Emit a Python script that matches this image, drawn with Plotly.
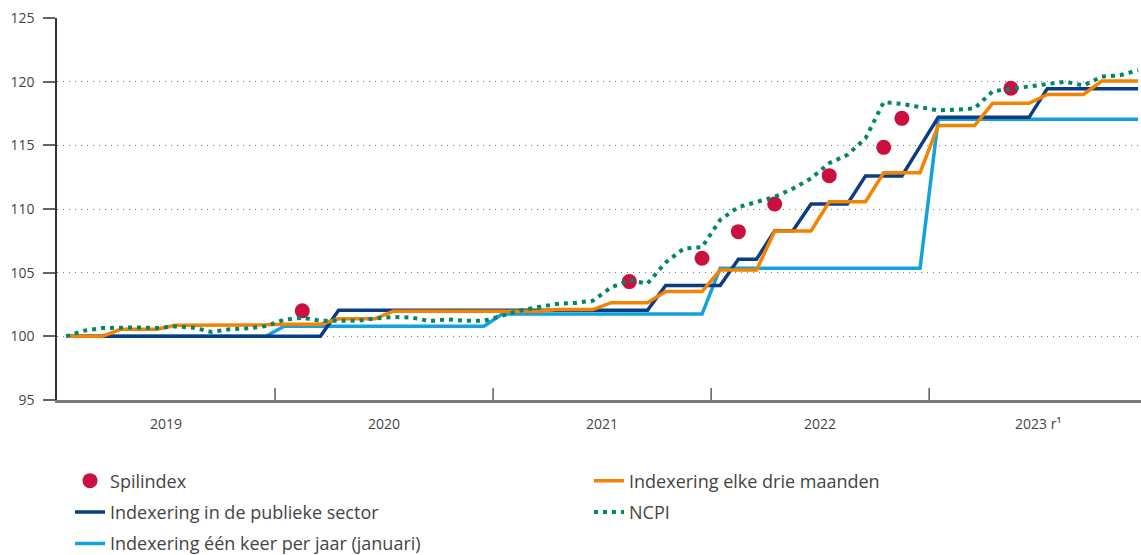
import plotly.graph_objects as go

# ---------------- data ----------------
years = [2019, 2020, 2021, 2022, 2023]
year_labels = ["2019", "2020", "2021", "2022", "2023 r¹"]
months = [f"{y}-{m:02d}" for y in years for m in range(1, 13)]

# Indexering één keer per jaar (januari)
annual = [100.0, 100.0, 100.0, 100.0, 100.0, 100.0, 100.0, 100.0, 100.0, 100.0, 100.0, 100.0,
          100.8, 100.8, 100.8, 100.8, 100.8, 100.8, 100.8, 100.8, 100.8, 100.8, 100.8, 100.8,
          101.75, 101.75, 101.75, 101.75, 101.75, 101.75, 101.75, 101.75, 101.75, 101.75, 101.75, 101.75,
          105.35, 105.35, 105.35, 105.35, 105.35, 105.35, 105.35, 105.35, 105.35, 105.35, 105.35, 105.35,
          117.05, 117.05, 117.05, 117.05, 117.05, 117.05, 117.05, 117.05, 117.05, 117.05, 117.05, 117.05]

# Indexering in de publieke sector
public = [100.0, 100.0, 100.0, 100.0, 100.0, 100.0, 100.0, 100.0, 100.0, 100.0, 100.0, 100.0,
          100.0, 100.0, 100.0, 102.05, 102.05, 102.05, 102.05, 102.05, 102.05, 102.05, 102.05, 102.05,
          102.05, 102.05, 102.05, 102.05, 102.05, 102.05, 102.05, 102.05, 102.05, 104.0, 104.0, 104.0,
          104.0, 106.05, 106.05, 108.3, 108.3, 110.4, 110.4, 110.4, 112.6, 112.6, 112.6, 114.9,
          117.2, 117.2, 117.2, 117.2, 117.2, 117.2, 119.45, 119.45, 119.45, 119.45, 119.45, 119.45]

# Indexering elke drie maanden
quarterly = [100.0, 100.0, 100.0, 100.55, 100.55, 100.55, 100.87, 100.87, 100.87, 100.9, 100.9, 100.9,
             100.95, 100.95, 100.95, 101.38, 101.38, 101.38, 101.97, 101.97, 101.97, 101.97, 101.97, 101.97,
             101.97, 101.97, 101.97, 102.1, 102.1, 102.1, 102.64, 102.64, 102.64, 103.52, 103.52, 103.52,
             105.2, 105.2, 105.2, 108.27, 108.27, 108.27, 110.57, 110.57, 110.57, 112.85, 112.85, 112.85,
             116.55, 116.55, 116.55, 118.3, 118.3, 118.3, 119.0, 119.0, 119.0, 120.05, 120.05, 120.05]

# NCPI
ncpi = [100.0, 100.45, 100.65, 100.7, 100.7, 100.65, 100.78, 100.68, 100.35, 100.55, 100.63, 100.8,
        101.3, 101.46, 101.22, 101.22, 101.22, 101.4, 101.52, 101.48, 101.2, 101.33, 101.22, 101.22,
        101.6, 102.02, 102.3, 102.54, 102.62, 102.8, 103.85, 104.4, 104.15, 105.8, 106.9, 107.0,
        109.15, 110.15, 110.55, 110.95, 111.6, 112.4, 113.6, 114.25, 115.55, 118.4, 118.25, 118.03,
        117.75, 117.8, 117.9, 119.25, 119.45, 119.6, 119.85, 120.0, 119.7, 120.4, 120.5, 120.9]

# Spilindex (months in which the pivot index was exceeded)
spil_months = ["2020-02", "2021-08", "2021-12", "2022-02", "2022-04",
               "2022-07", "2022-10", "2022-11", "2023-05"]
spil_values = [102.0, 104.3, 106.13, 108.22, 110.39, 112.62, 114.84, 117.12, 119.48]

# ---------------- styling ----------------
C_DARK = "#0a3d84"
C_LIGHT = "#12a3dc"
C_ORANGE = "#f58200"
C_GREEN = "#00876a"
C_RED = "#c9103f"
TXT = "#444444"
FONT = "Open Sans"

fig = go.Figure()
fig.add_trace(go.Scatter(x=months, y=annual, mode="lines", name="Indexering één keer per jaar (januari)",
                         line=dict(color=C_LIGHT, width=3.5), legend="legend", legendgroup="g3",
                         legendrank=3))
fig.add_trace(go.Scatter(x=months, y=public, mode="lines", name="Indexering in de publieke sector",
                         line=dict(color=C_DARK, width=3.5), legend="legend", legendgroup="g2",
                         legendrank=2))
fig.add_trace(go.Scatter(x=months, y=quarterly, mode="lines", name="Indexering elke drie maanden",
                         line=dict(color=C_ORANGE, width=3.5), legend="legend2", legendgroup="g4",
                         legendrank=4))
fig.add_trace(go.Scatter(x=spil_months, y=spil_values, mode="markers", name="Spilindex",
                         marker=dict(color=C_RED, size=15), legend="legend", legendgroup="g1",
                         legendrank=1))
fig.add_trace(go.Scatter(x=months, y=ncpi, mode="lines", name="NCPI",
                         line=dict(color=C_GREEN, width=4, dash="4px,5px"), legend="legend2",
                         legendgroup="g5", legendrank=5))

# year boundary ticks and labels
shapes = []
for i in range(1, len(years)):
    xb = i * 12 - 0.5
    shapes.append(dict(type="line", xref="x", yref="y", x0=xb, x1=xb, y0=95, y1=95.95,
                       line=dict(color="#333333", width=1.2)))
annotations = []
for i, lab in enumerate(year_labels):
    annotations.append(dict(x=i * 12 + 5.5, xref="x", y=0, yref="paper", yshift=-23,
                            text=lab, showarrow=False, yanchor="middle", xanchor="center",
                            font=dict(family=FONT, size=14, color=TXT)))

legend_common = dict(orientation="v", yanchor="top", xanchor="left", y=-0.1635,
                     font=dict(family=FONT, size=18, color=TXT),
                     traceorder="grouped", tracegroupgap=5, bgcolor="rgba(0,0,0,0)")

fig.update_layout(
    width=1141, height=555,
    margin=dict(l=57, r=0, t=18, b=155, autoexpand=False),
    paper_bgcolor="white", plot_bgcolor="white",
    font=dict(family=FONT, color=TXT),
    showlegend=True,
    legend=dict(x=0.0120, **legend_common),
    legend2=dict(x=0.4908, **legend_common),
    shapes=shapes,
    annotations=annotations,
)
fig.update_xaxes(type="category", range=[-0.5, 59.16], showgrid=False, showticklabels=False,
                 ticks="", showline=True, linecolor="#7a7a7a", linewidth=2.5, zeroline=False,
                 fixedrange=True)
fig.update_yaxes(range=[95, 125], dtick=5, tick0=95, showgrid=True, gridcolor="#777777",
                 gridwidth=1, griddash="1px,5px", showline=True, linecolor="#333333", linewidth=1.5,
                 ticks="outside", ticklen=12, tickwidth=1.5, tickcolor="#666666",
                 tickfont=dict(family=FONT, size=14, color=TXT), ticklabelstandoff=6,
                 zeroline=False, fixedrange=True)

fig.write_html("out.html",
               config={"displayModeBar": False},
               post_script="document.body.style.margin='0px';document.body.style.overflow='hidden';")
